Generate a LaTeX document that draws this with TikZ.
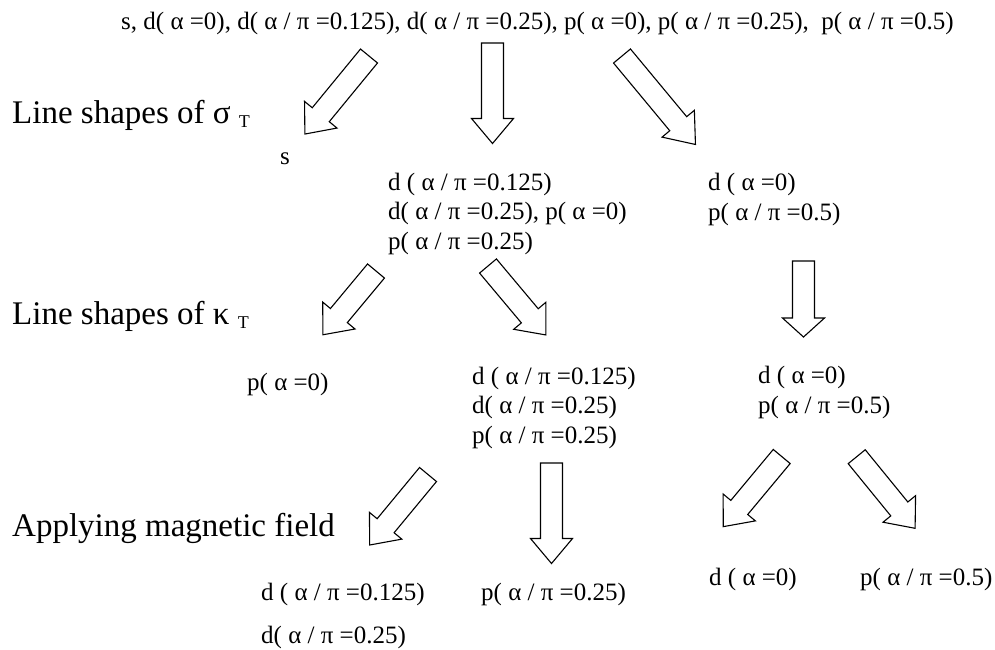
\documentclass[tikz,border=0pt]{standalone}
\usepackage{fontspec}
\setmainfont{Liberation Serif}
\tikzset{
  txt/.style={inner sep=0pt, anchor=base west, font=\fontsize{25}{29.5}\selectfont},
  blocktxt/.style={txt, align=left},
  levtxt/.style={inner sep=0pt, anchor=base west, font=\fontsize{33}{38}\selectfont},
  fatline/.style={draw=black, line width=1.1pt, fill=white, line join=miter},
  pics/fatarrow/.style args={#1/#2}{code={
    \draw[fatline] (0,-11) -- ({#1-#2},-11) -- ({#1-#2},-21) -- (#1,0) -- ({#1-#2},21) -- ({#1-#2},11) -- (0,11) -- cycle;
  }}
}
\newcommand{\lowT}{\raisebox{-4pt}{\fontsize{18}{18}\selectfont T}}
\begin{document}
\begin{tikzpicture}[x=1pt,y=-1pt]
\useasboundingbox (0,0) rectangle (995,649);
\node[txt] (all) at (121,29) {s, d( α =0), d( α / π =0.125), d( α / π =0.25), p( α =0), p( α / π =0.25), \ p( α / π =0.5)};
\node[levtxt] (lvsigma) at (12,123) {Line shapes of σ \lowT};
\node[levtxt] (lvkappa) at (12,324) {Line shapes of κ \lowT};
\node[levtxt] (lvfield) at (12,536) {Applying magnetic field};
\node[txt] (s) at (280,164) {s};
\node[blocktxt] (mid) at (388,249) {d ( α / π =0.125)\\d( α / π =0.25), p( α =0)\\p( α / π =0.25)};
\node[blocktxt] (right) at (708,220) {d ( α =0)\\p( α / π =0.5)};
\node[txt] (pzero) at (247,390) {p( α =0)};
\node[blocktxt] (midmid) at (472,443) {d ( α / π =0.125)\\d( α / π =0.25)\\p( α / π =0.25)};
\node[blocktxt] (rightmid) at (758,413) {d ( α =0)\\p( α / π =0.5)};
\node[txt] (dfirst) at (261,600) {d ( α / π =0.125)};
\node[txt] (dsecond) at (261,643) {d( α / π =0.25)};
\node[txt] (pquarter) at (481,600) {p( α / π =0.25)};
\node[txt] (dzero) at (709,585) {d ( α =0)};
\node[txt] (phalf) at (860,585) {p( α / π =0.5)};
\pic[rotate=230.6] (ar1) at (369,56) {fatarrow=101/25};
\pic[rotate=270] (ar2) at (492.5,43) {fatarrow=100.5/25};
\pic[rotate=309.7] (ar3) at (622,56) {fatarrow=115/27};
\pic[rotate=230.2] (ar4) at (376,271) {fatarrow=83/25};
\pic[rotate=310] (ar5) at (488,266) {fatarrow=90/25};
\pic[rotate=270] (ar6) at (803.5,261) {fatarrow=76/19};
\pic[rotate=230.4] (ar7) at (428,474.5) {fatarrow=91.5/25};
\pic[rotate=270] (ar8) at (551.5,463) {fatarrow=100.5/25};
\pic[rotate=230.2] (ar9) at (781.7,456.5) {fatarrow=91.3/25};
\pic[rotate=309.2] (ar10) at (856.7,456.7) {fatarrow=92.4/25};
\end{tikzpicture}
\end{document}
